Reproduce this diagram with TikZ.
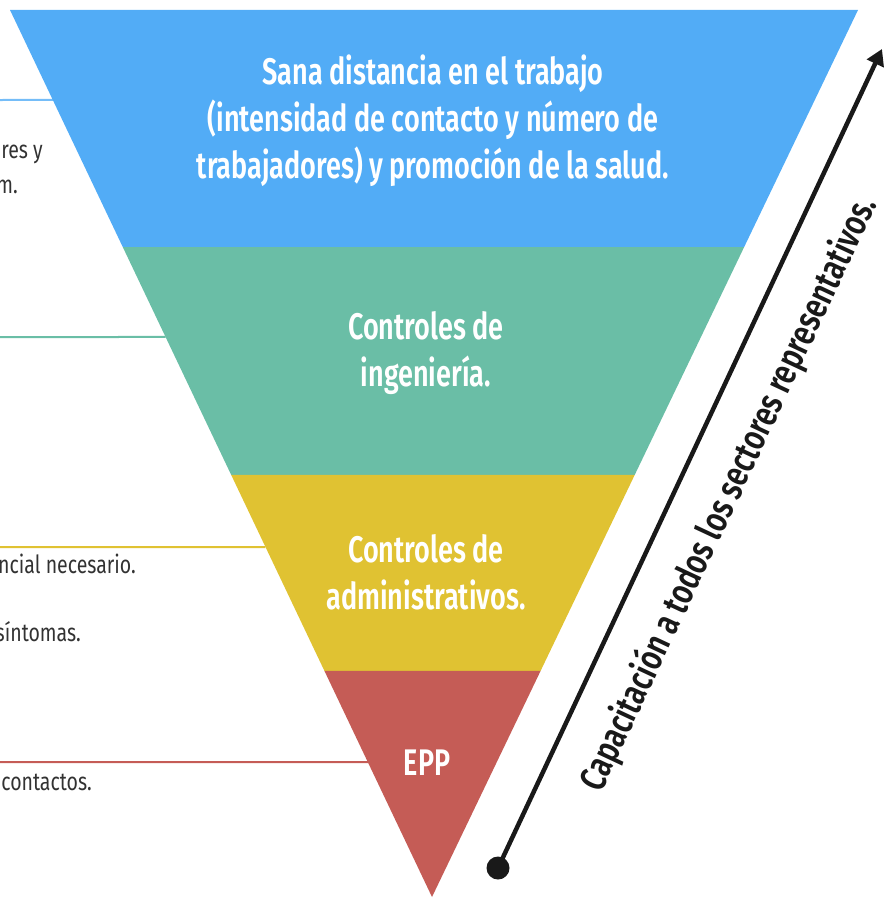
\documentclass[tikz,border=0pt]{standalone}
\usepackage{fontspec}
\setmainfont{Fira Sans}
\newfontfamily\condb[FakeStretch=0.73]{Fira Sans SemiBold}
\newfontfamily\condc[FakeStretch=0.77]{Fira Sans SemiBold}
\newfontfamily\condr[FakeStretch=0.78]{Fira Sans}
\usetikzlibrary{calc,arrows.meta}
\definecolor{cblue}{RGB}{82,172,246}
\definecolor{cgreen}{RGB}{106,190,166}
\definecolor{cyellow}{RGB}{224,194,50}
\definecolor{cred}{RGB}{197,92,86}
\definecolor{ctext}{RGB}{50,50,50}
\tikzset{
  bandtext/.style={text=white,font=\condb\fontsize{37}{47}\selectfont,align=center,inner sep=0pt},
  sidetext/.style={text=ctext,font=\condr\fontsize{25}{35}\selectfont,anchor=base east,inner sep=0pt},
  sideline/.style={line width=2pt},
}
\begin{document}
\begin{tikzpicture}[x=1pt,y=-1pt]
\useasboundingbox (0,0) rectangle (890,899);
\coordinate (TL) at (10,10);
\coordinate (TR) at (858,10);
\coordinate (A) at (432,897);
% side lines
\draw[sideline,cblue!80] (0,100) -- ($(TL)!{(100-10)/887}!(A)$);
\draw[sideline,cgreen] (0,337) -- ($(TL)!{(337-10)/887}!(A)$);
\draw[sideline,cyellow] (0,547) -- ($(TL)!{(547-10)/887}!(A)$);
\draw[sideline,cred] (0,762) -- ($(TL)!{(762-10)/887}!(A)$);
% side texts (cut off at the left)
\node[sidetext] (s1) at (43,158) {res y};
\node[sidetext] (s2) at (18,193) {m.};
\node[sidetext] (s3) at (136,573) {ncial necesario.};
\node[sidetext] (s4) at (81,641) {síntomas.};
\node[sidetext] (s5) at (92,790) {contactos.};
% bands
\coordinate (L1) at ($(TL)!0.2672!(A)$); \coordinate (R1) at ($(TR)!0.2672!(A)$);
\coordinate (L2) at ($(TL)!0.5242!(A)$); \coordinate (R2) at ($(TR)!0.5242!(A)$);
\coordinate (L3) at ($(TL)!0.7452!(A)$); \coordinate (R3) at ($(TR)!0.7452!(A)$);
\fill[cblue] (TL) -- (TR) -- (R1) -- (L1) -- cycle;
\fill[cgreen] (L1) -- (R1) -- (R2) -- (L2) -- cycle;
\fill[cyellow] (L2) -- (R2) -- (R3) -- (L3) -- cycle;
\fill[cred] (L3) -- (R3) -- (A) -- cycle;
% band texts
\node[bandtext] (t1) at (433,121) {Sana distancia en el trabajo\\(intensidad de contacto y número de\\trabajadores) y promoción de la salud.};
\node[bandtext] (t2) at (426,353) {Controles de\\ingeniería.};
\node[bandtext] (t3) at (426,572) {Controles de\\administrativos.};
\node[bandtext] (t4) at (427,763) {EPP};
% arrow
\node[circle,fill=black!90,inner sep=0pt,minimum size=23pt] (dot) at (498,868) {};
\coordinate (tip) at (882,49);
\draw[line width=4.5pt,black!90,-{Triangle[length=16pt,width=18pt]}] (dot.center) -- (tip);
\node[font=\condc\fontsize{37}{37}\selectfont,rotate=64.9,inner sep=0pt,black!90] (cap) at (729,494) {Capacitación a todos los sectores representativos.};
\end{tikzpicture}
\end{document}
